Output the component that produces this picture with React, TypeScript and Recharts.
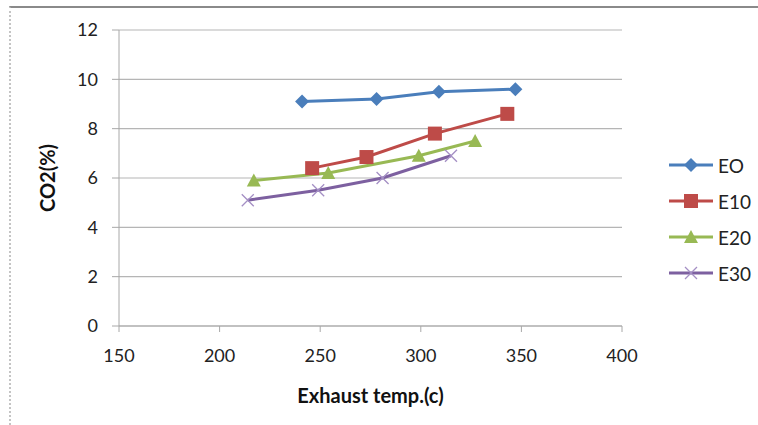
import React from "react";
import { LineChart, Line, XAxis, YAxis, CartesianGrid } from "recharts";

const xTicks = [150, 200, 250, 300, 350, 400];
const yTicks = [0, 2, 4, 6, 8, 10, 12];

const e0Temp = [241, 278, 309, 347];
const e0Co2 = [9.1, 9.2, 9.5, 9.6];
const e10Temp = [246, 273, 307, 343];
const e10Co2 = [6.4, 6.85, 7.8, 8.6];
const e20Temp = [217, 254, 299, 327];
const e20Co2 = [5.9, 6.2, 6.9, 7.5];
const e30Temp = [214, 249, 281, 315];
const e30Co2 = [5.1, 5.5, 6.0, 6.9];

const toRows = (xs: number[], ys: number[]) => xs.map((x, i) => ({ t: x, v: ys[i] }));

const COLORS = { e0: "#4a7ebb", e10: "#be4b48", e20: "#98b954", e30: "#7d60a0" };

const Diamond = (props: any) => {
  const { cx, cy } = props;
  if (cx == null || cy == null) return null;
  const r = 7;
  return <path d={`M${cx},${cy - r}L${cx + r},${cy}L${cx},${cy + r}L${cx - r},${cy}Z`} fill={COLORS.e0} />;
};
const Square = (props: any) => {
  const { cx, cy } = props;
  if (cx == null || cy == null) return null;
  const r = 7;
  return <rect x={cx - r} y={cy - r} width={2 * r} height={2 * r} fill={COLORS.e10} />;
};
const Tri = (props: any) => {
  const { cx, cy } = props;
  if (cx == null || cy == null) return null;
  return <path d={`M${cx},${cy - 7}L${cx + 7},${cy + 6}L${cx - 7},${cy + 6}Z`} fill={COLORS.e20} />;
};
const Cross = (props: any) => {
  const { cx, cy } = props;
  if (cx == null || cy == null) return null;
  const r = 6;
  return (
    <path
      d={`M${cx - r},${cy - r}L${cx + r},${cy + r}M${cx - r},${cy + r}L${cx + r},${cy - r}`}
      stroke="#a48fc4"
      strokeWidth={1.3}
      fill="none"
    />
  );
};

const legendItems = [
  { name: "EO", color: COLORS.e0, M: Diamond },
  { name: "E10", color: COLORS.e10, M: Square },
  { name: "E20", color: COLORS.e20, M: Tri },
  { name: "E30", color: COLORS.e30, M: Cross },
];

const LegendBox = () => (
  <div style={{ position: "absolute", left: 668, top: 147 }}>
    {legendItems.map((it) => (
      <div key={it.name} style={{ display: "flex", alignItems: "center", height: 36 }}>
        <svg width={46} height={20}>
          <line x1={1} y1={10} x2={45} y2={10} stroke={it.color} strokeWidth={3} />
          <it.M cx={23} cy={10} />
        </svg>
        <span style={{ fontSize: 19, color: "#222", marginLeft: 4 }}>{it.name}</span>
      </div>
    ))}
  </div>
);

export default function App() {
  const font = "Lato, 'Open Sans', sans-serif";
  return (
    <div style={{ position: "absolute", left: 0, top: 0, width: 758, height: 425, background: "#fff", fontFamily: font }}>
      <div
        style={{
          position: "absolute",
          left: 9,
          top: 6,
          width: 749,
          height: 419,
          borderTop: "2px solid #8a8a8a",
          borderLeft: "2px dotted #c4c4c4",
          boxSizing: "border-box",
        }}
      />
      <LineChart
        width={758}
        height={425}
        margin={{ top: 30, right: 136, bottom: 69, left: 0 }}
        style={{ position: "absolute", left: 0, top: 0, fontFamily: font }}
      >
        <CartesianGrid horizontal vertical={false} stroke="#b5b5b5" strokeWidth={1.2} />
        <XAxis
          type="number"
          dataKey="t"
          domain={[150, 400]}
          ticks={xTicks}
          allowDuplicatedCategory={false}
          stroke="#a8a8a8"
          height={30}
          tickSize={6}
          tickMargin={17}
          tick={{ fill: "#222", fontSize: 18 }}
          label={{ value: "Exhaust temp.(c)", position: "insideBottom", offset: -47, fill: "#111", fontSize: 20, fontWeight: 700 }}
        />
        <YAxis
          type="number"
          domain={[0, 12]}
          ticks={yTicks}
          width={119}
          stroke="#a8a8a8"
          tickSize={7}
          tickMargin={14}
          tick={{ fill: "#222", fontSize: 18 }}
          label={{ value: "CO2(%)", angle: -90, position: "insideLeft", offset: 48, fill: "#111", fontSize: 20, fontWeight: 700, style: { textAnchor: "middle" } }}
        />
        <Line data={toRows(e0Temp, e0Co2)} dataKey="v" name="EO" stroke={COLORS.e0} strokeWidth={3} dot={<Diamond />} isAnimationActive={false} />
        <Line data={toRows(e10Temp, e10Co2)} dataKey="v" name="E10" stroke={COLORS.e10} strokeWidth={3} dot={<Square />} isAnimationActive={false} />
        <Line data={toRows(e20Temp, e20Co2)} dataKey="v" name="E20" stroke={COLORS.e20} strokeWidth={3} dot={<Tri />} isAnimationActive={false} />
        <Line data={toRows(e30Temp, e30Co2)} dataKey="v" name="E30" stroke={COLORS.e30} strokeWidth={3} dot={<Cross />} isAnimationActive={false} />
      </LineChart>
      <LegendBox />
    </div>
  );
}
